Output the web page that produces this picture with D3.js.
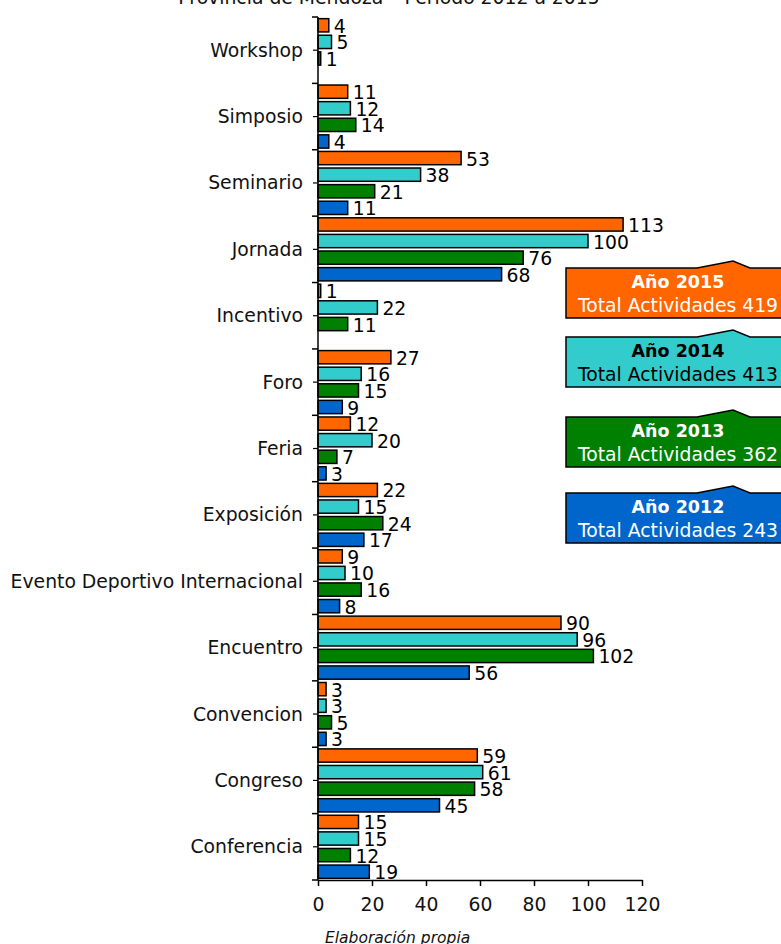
<!DOCTYPE html>
<html>
<head>
<meta charset="utf-8">
<script src="https://cdn.jsdelivr.net/npm/d3@7"></script>
<style>
  body, html { margin:0; padding:0; background:#fff; overflow:hidden; }
  svg { display:block; font-family: Verdana, "DejaVu Sans", sans-serif; }
</style>
</head>
<body>
<svg id="chart" width="781" height="944"></svg>
<script>
// categories top to bottom
var categories = ["Workshop","Simposio","Seminario","Jornada","Incentivo","Foro","Feria",
  "Exposición","Evento Deportivo Internacional","Encuentro","Convencion","Congreso","Conferencia"];
var years = ["2015","2014","2013","2012"];
var v2015 = [4,11,53,113,1,27,12,22,9,90,3,59,15];
var v2014 = [5,12,38,100,22,16,20,15,10,96,3,61,15];
var v2013 = [1,14,21,76,11,15,7,24,16,102,5,58,12];
var v2012 = [null,4,11,68,null,9,3,17,8,56,3,45,19];
var totals = [419,413,362,243];
var colors = ["#ff6600","#33cccc","#008000","#0066cc"];
var legendText = ["#fff","#000","#fff","#fff"];
var xTicks = [0,20,40,60,80,100,120];

var series = [v2015, v2014, v2013, v2012];
var svg = d3.select("#chart");
var fs = 18.8;

var x = d3.scaleLinear().domain([0,120]).range([318,642]);
var y = d3.scaleBand().domain(categories).range([17,880]);
var sub = d3.scaleBand().domain(years).range([0,y.bandwidth()]).paddingInner(0.2).paddingOuter(0.1);

// title (cut at top)
svg.append("text").attr("x",389).attr("y",4).attr("text-anchor","middle")
  .attr("font-size",fs).attr("fill","#111").text("Provincia de Mendoza – Período 2012 a 2015");

// bars
categories.forEach(function(c, ci){
  series.forEach(function(s, si){
    var v = s[ci];
    if (v == null) return;
    var yy = y(c) + sub(years[si]);
    svg.append("rect")
      .attr("x", x(0)).attr("y", yy)
      .attr("width", x(v) - x(0)).attr("height", sub.bandwidth())
      .attr("fill", colors[si]).attr("stroke","#000").attr("stroke-width",1.5);
    svg.append("text")
      .attr("x", x(v) + 5).attr("y", yy + sub.bandwidth()/2 + 1)
      .attr("dominant-baseline","central")
      .attr("font-size",fs).attr("fill","#000").text(v);
  });
});

// y axis
var yAxisG = svg.append("g");
yAxisG.append("line").attr("x1",x(0)).attr("x2",x(0)).attr("y1",17).attr("y2",880)
  .attr("stroke","#000").attr("stroke-width",1.5);
var bounds = categories.map(function(c){ return y(c); }).concat([880]);
bounds.forEach(function(b){
  yAxisG.append("line").attr("x1",x(0)-6).attr("x2",x(0)).attr("y1",b).attr("y2",b)
    .attr("stroke","#000").attr("stroke-width",1.5);
});
categories.forEach(function(c){
  var cy = y(c) + y.bandwidth()/2;
  yAxisG.append("line").attr("x1",x(0)-5).attr("x2",x(0)).attr("y1",cy).attr("y2",cy)
    .attr("stroke","#000").attr("stroke-width",1.2);
  yAxisG.append("text").attr("x",303).attr("y",cy).attr("text-anchor","end")
    .attr("dominant-baseline","central").attr("font-size",fs).attr("fill","#111").text(c);
});

// x axis
var xAxis = d3.axisBottom(x).tickValues(xTicks).tickSize(6).tickPadding(12).tickSizeOuter(0);
var xg = svg.append("g").attr("transform","translate(0,880)").call(xAxis);
xg.select(".domain").attr("stroke","#000").attr("stroke-width",1.5);
xg.selectAll(".tick line").attr("stroke","#000").attr("stroke-width",1.5);
xg.selectAll(".tick text").attr("font-size",fs).attr("font-family","Verdana, 'DejaVu Sans', sans-serif").attr("fill","#111");

// source
svg.append("text").attr("x",325).attr("y",943).attr("font-size",15.5)
  .attr("font-style","italic").attr("fill","#111").text("Elaboración propia");

// legend callouts
var legendTops = [268,337,417,493];
years.forEach(function(yr, i){
  var t = legendTops[i];
  var g = svg.append("g");
  g.append("path")
    .attr("d", "M566," + t + " L697," + t + " L733," + (t-7) + " L750," + t +
      " L792," + t + " L792," + (t+50) + " L566," + (t+50) + " Z")
    .attr("fill", colors[i]).attr("stroke","#000").attr("stroke-width",1.5);
  g.append("text").attr("x",678).attr("y",t+20).attr("text-anchor","middle")
    .attr("font-size",17.5).attr("font-weight","bold").attr("fill",legendText[i]).text("Año " + yr);
  g.append("text").attr("x",678).attr("y",t+44).attr("text-anchor","middle")
    .attr("font-size",fs).attr("fill",legendText[i]).text("Total Actividades " + totals[i]);
});
</script>
</body>
</html>
